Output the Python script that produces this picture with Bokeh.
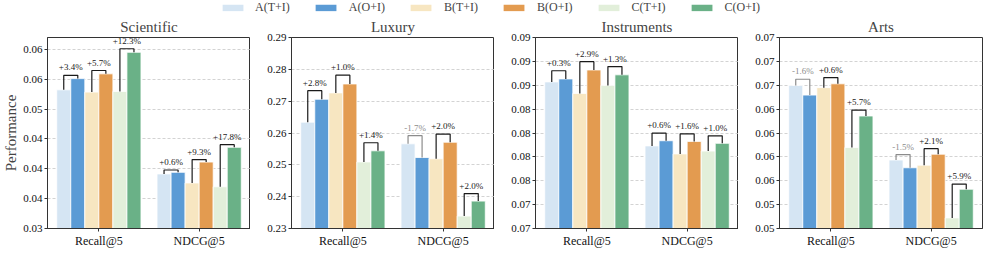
from bokeh.plotting import figure
from bokeh.models import Range1d, FixedTicker, Legend, LegendItem, ColumnDataSource
from bokeh.layouts import column, row
from bokeh.embed import file_html
from bokeh.resources import INLINE

# ---------------- data ----------------
series = ["A(T+I)", "A(O+I)", "B(T+I)", "B(O+I)", "C(T+I)", "C(O+I)"]
colors = ["#d5e5f3", "#5b9bd5", "#f7e6c1", "#e39b50", "#e2efda", "#6ab187"]
metrics = ["Recall@5", "NDCG@5"]
datasets = ["Scientific", "Luxury", "Instruments", "Arts"]

scientific_recall = [0.05323, 0.05511, 0.05285, 0.05591, 0.05296, 0.05952]
scientific_ndcg = [0.03914, 0.03941, 0.03763, 0.04113, 0.03699, 0.04360]
scientific_pct_recall = ["+3.4%", "+5.7%", "+12.3%"]
scientific_pct_ndcg = ["+0.6%", "+9.3%", "+17.8%"]
scientific_ticks = [0.030, 0.035, 0.040, 0.045, 0.050, 0.055, 0.060]
scientific_tick_labels = ["0.03", "0.04", "0.04", "0.04", "0.05", "0.06", "0.06"]
scientific_ylim = [0.030, 0.062]

luxury_recall = [0.2634, 0.2706, 0.2726, 0.2754, 0.2509, 0.2544]
luxury_ndcg = [0.2566, 0.2523, 0.2519, 0.2571, 0.2339, 0.2386]
luxury_pct_recall = ["+2.8%", "+1.0%", "+1.4%"]
luxury_pct_ndcg = ["-1.7%", "+2.0%", "+2.0%"]
luxury_ticks = [0.23, 0.24, 0.25, 0.26, 0.27, 0.28, 0.29]
luxury_tick_labels = ["0.23", "0.24", "0.25", "0.26", "0.27", "0.28", "0.29"]
luxury_ylim = [0.23, 0.29]

instruments_recall = [0.08535, 0.08566, 0.08414, 0.08660, 0.08498, 0.08609]
instruments_ndcg = [0.07865, 0.07919, 0.07781, 0.07912, 0.07811, 0.07892]
instruments_pct_recall = ["+0.3%", "+2.9%", "+1.3%"]
instruments_pct_ndcg = ["+0.6%", "+1.6%", "+1.0%"]
instruments_ticks = [0.07, 0.0725, 0.075, 0.0775, 0.08, 0.0825, 0.085, 0.0875, 0.09]
instruments_tick_labels = ["0.07", "0.07", "0.08", "0.08", "0.08", "0.08", "0.09", "0.09", "0.09"]
instruments_ylim = [0.07, 0.09]

arts_recall = [0.06498, 0.06397, 0.06475, 0.06515, 0.05848, 0.06178]
arts_ndcg = [0.05717, 0.05636, 0.05663, 0.05778, 0.05111, 0.05411]
arts_pct_recall = ["-1.6%", "+0.6%", "+5.7%"]
arts_pct_ndcg = ["-1.5%", "+2.1%", "+5.9%"]
arts_ticks = [0.05, 0.0525, 0.055, 0.0575, 0.06, 0.0625, 0.065, 0.0675, 0.07]
arts_tick_labels = ["0.05", "0.05", "0.06", "0.06", "0.06", "0.06", "0.07", "0.07", "0.07"]
arts_ylim = [0.05, 0.07]

# ---------------- styling ----------------
FONT = "Liberation Serif"
BAR_W = 0.14
FRAME_W = 203
FRAME_H = 191
GAP = 41


def make_panel(title, recall, ndcg, pct_recall, pct_ndcg, ticks, tick_labels, ylim,
               first=False, last=False):
    p = figure(frame_width=FRAME_W, frame_height=FRAME_H,
               x_range=Range1d(-0.512, 1.512), y_range=Range1d(ylim[0], ylim[1]),
               toolbar_location=None, output_backend="svg",
               min_border_left=(0 if first else GAP), min_border_right=(4 if last else 0),
               min_border_top=0, min_border_bottom=0)
    p.title.text = title
    p.title.align = "center"
    p.title.text_font = FONT
    p.title.text_font_size = "15px"
    p.title.text_font_style = "normal"
    p.title.standoff = 5

    p.outline_line_color = "#333333"
    p.outline_line_width = 1
    p.outline_line_alpha = 1

    # bars
    for gi, vals in enumerate([recall, ndcg]):
        xs = [gi + (i - 2.5) * BAR_W for i in range(6)]
        src = ColumnDataSource(dict(x=xs, top=vals, color=colors))
        p.vbar(x="x", top="top", bottom=ylim[0], width=BAR_W, fill_color="color",
               line_color="white", line_width=0.8, source=src)

    # brackets
    bx, by, bc, tx, ty, tt, tc = [], [], [], [], [], [], []
    for gi, (vals, pcts) in enumerate([(recall, pct_recall), (ndcg, pct_ndcg)]):
        for k in range(3):
            i1, i2 = 2 * k, 2 * k + 1
            x1 = gi + (i1 - 2.5) * BAR_W
            x2 = gi + (i2 - 2.5) * BAR_W
            y1, y2 = vals[i1], vals[i2]
            top = max(y1, y2) * 1.01
            col = "#8c8c8c" if pcts[k].startswith("-") else "#1a1a1a"
            bx.append([x1, x1, x2, x2])
            by.append([y1, top, top, y2])
            bc.append(col)
            tx.append((x1 + x2) / 2)
            ty.append(top)
            tt.append(pcts[k])
            tc.append(col)
    p.multi_line(xs=bx, ys=by, line_color=bc, line_width=1.2)
    p.text(x=tx, y=ty, text=tt, text_color=tc, text_font_size="9px",
           text_align="center", text_baseline="bottom", y_offset=-3,
           text_font={"value": FONT})

    # axes
    p.xaxis.ticker = FixedTicker(ticks=[0, 1])
    p.xaxis.major_label_overrides = {0: metrics[0], 1: metrics[1]}
    p.yaxis.ticker = FixedTicker(ticks=ticks)
    p.yaxis.major_label_overrides = {t: l for t, l in zip(ticks, tick_labels)}
    for ax in (p.xaxis[0], p.yaxis[0]):
        ax.major_label_text_font = FONT
        ax.major_tick_in = 0
        ax.major_tick_out = 3
        ax.minor_tick_line_color = None
        ax.axis_line_color = "#333333"
        ax.major_tick_line_color = "#333333"
        ax.major_label_text_color = "#111111"
        ax.major_label_standoff = 2
    p.xaxis.major_label_text_font_size = "12px"
    p.yaxis.major_label_text_font_size = "11px"
    if first:
        p.yaxis.axis_label = "Performance"
        p.yaxis.axis_label_text_font = FONT
        p.yaxis.axis_label_text_font_size = "15px"
        p.yaxis.axis_label_text_font_style = "normal"
        p.yaxis.axis_label_standoff = 1

    p.xgrid.grid_line_color = None
    p.ygrid.ticker = FixedTicker(ticks=ticks)
    p.ygrid.grid_line_color = "#c8c8c8"
    p.ygrid.grid_line_dash = "3 2"
    p.ygrid.grid_line_width = 0.8
    return p


panels = [
    make_panel("Scientific", scientific_recall, scientific_ndcg, scientific_pct_recall,
               scientific_pct_ndcg, scientific_ticks, scientific_tick_labels, scientific_ylim,
               first=True),
    make_panel("Luxury", luxury_recall, luxury_ndcg, luxury_pct_recall, luxury_pct_ndcg,
               luxury_ticks, luxury_tick_labels, luxury_ylim),
    make_panel("Instruments", instruments_recall, instruments_ndcg, instruments_pct_recall,
               instruments_pct_ndcg, instruments_ticks, instruments_tick_labels, instruments_ylim),
    make_panel("Arts", arts_recall, arts_ndcg, arts_pct_recall, arts_pct_ndcg,
               arts_ticks, arts_tick_labels, arts_ylim, last=True),
]

# legend strip (zero-height proxy bars only supply the legend swatches)
lg = figure(width=979, height=14, x_range=Range1d(0, 1), y_range=Range1d(0, 1),
            toolbar_location=None, output_backend="svg", min_border=0)
lg.axis.visible = False
lg.grid.visible = False
lg.outline_line_color = None
items = []
for s, c in zip(series, colors):
    r = lg.vbar(x=[0.5], top=[0], bottom=[0], width=0.0, fill_color=c, line_color=None)
    items.append(LegendItem(label=s, renderers=[r]))
legend = Legend(items=items, orientation="horizontal", location="center",
                glyph_width=26, glyph_height=8, label_standoff=10, spacing=23,
                label_text_font=FONT, label_text_font_size="12px",
                padding=0, margin=0, border_line_color=None,
                background_fill_alpha=0, label_height=12)
lg.add_layout(legend)

layout = column(lg, row(*panels))
open("out.html", "w").write(file_html(layout, INLINE))
